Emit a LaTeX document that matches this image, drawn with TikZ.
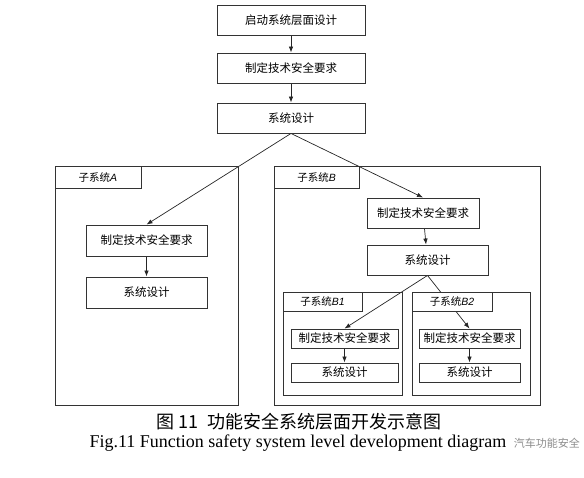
\documentclass[tikz,border=0pt]{standalone}
\usepackage{fontspec}
\setmainfont{Liberation Serif}
\setsansfont{Liberation Sans}
\newfontfamily\cjk{Noto Sans CJK SC}
\usetikzlibrary{arrows.meta,positioning,backgrounds}

\begin{document}
\begin{tikzpicture}[x=1pt, y=-1pt,
    every node/.style={inner sep=0pt},
    box/.style={draw=black!80, line width=0.9pt, fill=white, font=\cjk\fontsize{11.5}{13}\selectfont},
    tabbox/.style={draw=black!80, line width=0.9pt, fill=white, font=\cjk\fontsize{10.5}{12}\selectfont},
    frame/.style={draw=black!80, line width=0.9pt},
    arr/.style={-{Latex[length=6pt,width=4.5pt]}, draw=black!85, line width=0.7pt}]
    \useasboundingbox (0,0) rectangle (584,477);

    \node[box, minimum width=148pt, minimum height=30pt] (start) at (291,20) {启动系统层面设计};
    \node[box, minimum width=148pt, minimum height=30pt] (req) at (291,68) {制定技术安全要求};
    \node[box, minimum width=148pt, minimum height=30pt] (sys) at (291,118) {系统设计};

    \draw[frame] (55,166) rectangle (238,405);
    \node[tabbox, minimum width=86pt, minimum height=22pt] (tabA) at (98,177) {子系统{\sffamily\itshape A}};
    \node[box, minimum width=121pt, minimum height=31pt] (reqA) at (146.5,240.5) {制定技术安全要求};
    \node[box, minimum width=121pt, minimum height=31pt] (sysA) at (146.5,292.5) {系统设计};

    \draw[frame] (274,166) rectangle (540,405);
    \node[tabbox, minimum width=85pt, minimum height=22pt] (tabB) at (316.5,177) {子系统{\sffamily\itshape B}};
    \node[box, minimum width=112pt, minimum height=30pt] (reqB) at (423,213) {制定技术安全要求};
    \node[box, minimum width=121pt, minimum height=30pt] (sysB) at (427.5,260) {系统设计};

    \draw[frame] (283,292) rectangle (402,395);
    \node[tabbox, minimum width=79pt, minimum height=19pt] (tabB1) at (322.5,301.5) {子系统{\sffamily\itshape B1}};
    \node[box, minimum width=107pt, minimum height=19pt] (reqB1) at (344.5,338.5) {制定技术安全要求};
    \node[box, minimum width=107pt, minimum height=19pt] (sysB1) at (344.5,372.5) {系统设计};

    \draw[frame] (412,292) rectangle (530,395);
    \node[tabbox, minimum width=80pt, minimum height=19pt] (tabB2) at (452,301.5) {子系统{\sffamily\itshape B2}};
    \node[box, minimum width=101pt, minimum height=19pt] (reqB2) at (469.5,338.5) {制定技术安全要求};
    \node[box, minimum width=101pt, minimum height=19pt] (sysB2) at (469.5,372.5) {系统设计};

    \begin{scope}[on background layer]
    \draw[arr] (start) -- (req);
    \draw[arr] (req) -- (sys);
    \draw[arr] (sys.south) -- (reqA.north);
    \draw[arr] (sys.south) -- (reqB.north);
    \draw[arr] (reqA) -- (sysA);
    \draw[arr] (reqB) -- (sysB);
    \draw[arr] (sysB.south) -- (reqB1.north);
    \draw[arr] (sysB.south) -- (reqB2.north);
    \draw[arr] (reqB1) -- (sysB1);
    \draw[arr] (reqB2) -- (sysB2);
    \end{scope}

    \node[font=\cjk\fontsize{18}{20}\selectfont] (capcn) at (299,422) {图 11\ \ 功能安全系统层面开发示意图};
    \node[font=\fontsize{18}{20}\selectfont] (capen) at (298,443) {Fig.11 Function safety system level development diagram};
    \node[font=\cjk\fontsize{11}{13}\selectfont, text=black!45, anchor=east] (mark) at (580,443) {汽车功能安全};
\end{tikzpicture}
\end{document}
